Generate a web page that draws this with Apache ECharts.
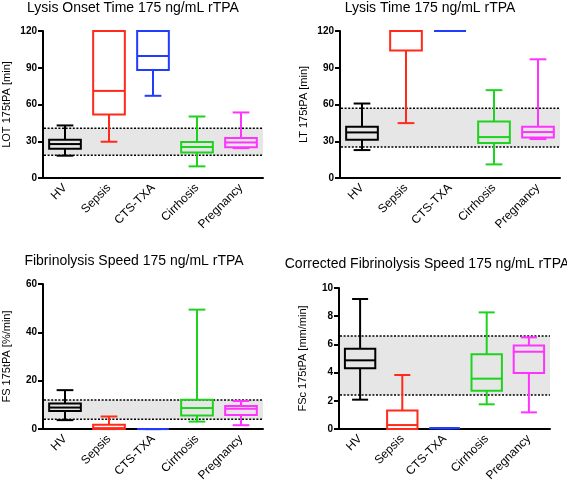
<!DOCTYPE html>
<html>
<head>
<meta charset="utf-8">
<script src="https://cdn.jsdelivr.net/npm/echarts@6/dist/echarts.min.js"></script>
<style>html,body{margin:0;padding:0;background:#fff}#c{width:567px;height:484px}</style>
</head>
<body>
<div id="c"></div>
<script>
// ---- data ----
const categories = ['HV', 'Sepsis', 'CTS-TXA', 'Cirrhosis', 'Pregnancy'];
// each row: [min, Q1, median, Q3, max]
const lotBoxes = [[18.2, 23.9, 27.7, 31.2, 42.9], [29.6, 51.9, 71.1, 120, 120], [67.1, 88.2, 99.6, 120, 120], [9.5, 20.9, 25.3, 29.3, 50.2], [24.4, 25.2, 29.0, 32.6, 53.5]];
const lotRef = [18.5, 40.7];
const ltBoxes = [[22.8, 31.2, 37.2, 41.8, 60.8], [44.8, 104, 120, 120, 120], [120, 120, 120, 120, 120], [11.1, 28.5, 33.4, 46.2, 71.7], [31.8, 33.1, 37.5, 41.8, 96.9]];
const ltRef = [25.3, 57];
const fsBoxes = [[3.7, 7.5, 8.9, 10.6, 16.1], [0, 0, 0.4, 1.8, 5.2], [0, 0, 0, 0, 0], [3.1, 5.6, 8.7, 12.1, 49.4], [1.6, 5.8, 8.4, 9.5, 11.6]];
const fsRef = [4.1, 12];
const fscBoxes = [[2.08, 4.3, 4.87, 5.7, 9.22], [0, 0, 0.28, 1.32, 3.83], [0.06, 0.06, 0.06, 0.06, 0.06], [1.75, 2.72, 3.57, 5.3, 8.27], [1.18, 3.97, 5.48, 5.93, 6.5]];
const fscRef = [2.41, 6.6];
const titles = ['Lysis Onset Time 175 ng/mL rTPA', 'Lysis Time 175 ng/mL rTPA', 'Fibrinolysis Speed 175 ng/mL rTPA', 'Corrected Fibrinolysis Speed 175 ng/mL rTPA'];
const yNames = ['LOT 175tPA [min]', 'LT 175tPA [min]', 'FS 175tPA [%/min]', 'FSc 175tPA [mm/min]'];
const yMax = [120, 120, 60, 10];
const yInterval = [30, 30, 20, 2];

// ---- styles ----
const FONT = "'Liberation Sans', Arial, Helvetica, sans-serif";
const catColors = ['#000000', '#ff2a1a', '#1f3cff', '#1ed21e', '#ff33ff'];
const grids = [
  {left: 43, top: 31, width: 220, height: 147},
  {left: 340, top: 31, width: 220, height: 147},
  {left: 42, top: 284, width: 221, height: 147},
  {left: 339, top: 288, width: 211, height: 141}
];
const titlePos = [[133, 8], [430, 8], [134, 261], [427, 264]];

const panels = [
  {boxes: lotBoxes, ref: lotRef},
  {boxes: ltBoxes, ref: ltRef},
  {boxes: fsBoxes, ref: fsRef},
  {boxes: fscBoxes, ref: fscRef}
];

function boxRender(params, api) {
  const ci = api.value(0);
  const v = [1, 2, 3, 4, 5].map(i => api.value(i));
  const p = v.map(val => api.coord([ci, val]));
  const band = api.size([1, 0])[0];
  const hw = band * 0.36, cw = band * 0.19;
  const cx = p[0][0];
  const color = catColors[ci];
  const st = {stroke: color, lineWidth: 2, fill: null};
  return {
    type: 'group',
    children: [
      {type: 'line', shape: {x1: cx, y1: p[4][1], x2: cx, y2: p[3][1]}, style: st},
      {type: 'line', shape: {x1: cx, y1: p[1][1], x2: cx, y2: p[0][1]}, style: st},
      {type: 'line', shape: {x1: cx - cw, y1: p[4][1], x2: cx + cw, y2: p[4][1]}, style: st},
      {type: 'line', shape: {x1: cx - cw, y1: p[0][1], x2: cx + cw, y2: p[0][1]}, style: st},
      {type: 'rect', shape: {x: cx - hw, y: p[3][1], width: 2 * hw, height: p[1][1] - p[3][1]}, style: {stroke: color, lineWidth: 2, fill: 'rgba(0,0,0,0)'}},
      {type: 'line', shape: {x1: cx - hw, y1: p[2][1], x2: cx + hw, y2: p[2][1]}, style: st}
    ]
  };
}

function bandRender(params, api) {
  const cs = params.coordSys;
  const yLo = api.coord([0, api.value(1)])[1];
  const yHi = api.coord([0, api.value(2)])[1];
  const x0 = cs.x + 1, x1 = cs.x + cs.width;
  const ls = {stroke: '#000', lineWidth: 1.5, lineDash: [2, 1.6], fill: null};
  return {
    type: 'group',
    children: [
      {type: 'rect', shape: {x: x0, y: yHi, width: x1 - x0, height: yLo - yHi}, style: {fill: '#e6e6e6'}},
      {type: 'line', shape: {x1: x0, y1: yHi, x2: x1, y2: yHi}, style: ls},
      {type: 'line', shape: {x1: x0, y1: yLo, x2: x1, y2: yLo}, style: ls}
    ]
  };
}

const xAxes = [], yAxes = [], series = [], graphics = [];
panels.forEach((pn, i) => {
  xAxes.push({
    type: 'category', gridIndex: i, data: categories,
    axisLine: {lineStyle: {color: '#000', width: 2}},
    axisTick: {alignWithLabel: true, length: 5, lineStyle: {width: 2, color: '#000'}},
    axisLabel: {rotate: 45, fontSize: 12, color: '#000', fontFamily: FONT, margin: 8, interval: 0},
    splitLine: {show: false}
  });
  yAxes.push({
    type: 'value', gridIndex: i, min: 0, max: yMax[i], interval: yInterval[i],
    name: yNames[i], nameLocation: 'middle', nameGap: 31, nameRotate: 90,
    nameTextStyle: {fontSize: 11, color: '#000', fontFamily: FONT},
    axisLine: {show: true, lineStyle: {color: '#000', width: 2}},
    axisTick: {show: true, length: 5, lineStyle: {width: 2, color: '#000'}},
    axisLabel: {fontSize: 10, fontWeight: 'bold', color: '#000', fontFamily: FONT, margin: 6},
    splitLine: {show: false}
  });
  series.push({
    type: 'custom', xAxisIndex: i, yAxisIndex: i, z: 1, silent: true,
    renderItem: bandRender, data: [[0, pn.ref[0], pn.ref[1]]], clip: false
  });
  series.push({
    type: 'custom', xAxisIndex: i, yAxisIndex: i, z: 3, silent: true,
    renderItem: boxRender, clip: false,
    data: pn.boxes.map((b, ci) => [ci].concat(b))
  });
  graphics.push({
    type: 'text', x: titlePos[i][0], y: titlePos[i][1],
    style: {text: titles[i], fontSize: 14, fontFamily: FONT, fill: '#000', textAlign: 'center', textVerticalAlign: 'middle'}
  });
});

const chart = echarts.init(document.getElementById('c'), null, {renderer: 'canvas'});
chart.setOption({
  animation: false,
  backgroundColor: '#fff',
  grid: grids,
  xAxis: xAxes,
  yAxis: yAxes,
  series: series,
  graphic: graphics
});
</script>
</body>
</html>
